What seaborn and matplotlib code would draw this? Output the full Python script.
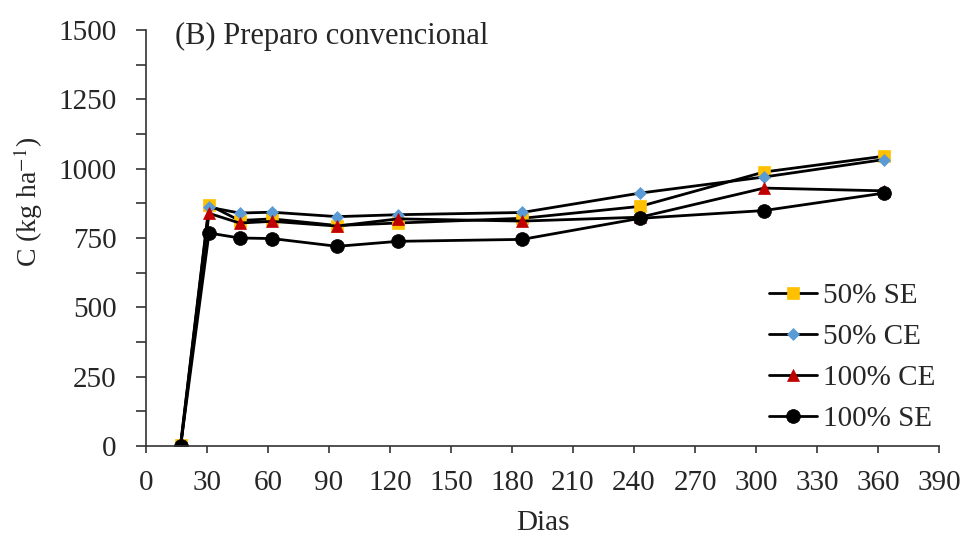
import matplotlib
matplotlib.use("Agg")
import matplotlib.pyplot as plt
import seaborn as sns
import pandas as pd
from matplotlib.ticker import MultipleLocator

days = [17, 31, 46, 62, 94, 124, 185, 243, 304, 363]
se50 = [5, 869, 813, 819, 795, 804, 821, 864, 988, 1045]
ce50 = [0, 861, 840, 843, 827, 834, 842, 912, 970, 1033]
ce100 = [-5, 839, 804, 810, 793, 819, 811, 825, 930, 920]
se100 = [0, 768, 750, 748, 720, 738, 745, 821, 849, 912]

labels = ["50% SE", "50% CE", "100% CE", "100% SE"]
series = [se50, ce50, ce100, se100]
markers = ["s", "D", "^", "o"]
mcolors = ["#FFC000", "#5B9BD5", "#C00000", "#000000"]
msizes = [9, 6.5, 9, 10]

sns.set_style("ticks")
plt.rcParams["font.family"] = ["Liberation Serif", "DejaVu Serif"]
plt.rcParams["mathtext.fontset"] = "stix"

fig = plt.figure(figsize=(9.65, 5.36), dpi=100)
ax = fig.add_axes([146 / 965, 1 - 446 / 536, 793 / 965, 416 / 536])

for lab, vals, mk, mc, ms in zip(labels, series, markers, mcolors, msizes):
    df = pd.DataFrame({"Dias": days, "C": vals})
    sns.lineplot(data=df, x="Dias", y="C", ax=ax, color="black", lw=2.0,
                 marker=mk, markersize=ms, markerfacecolor=mc,
                 markeredgecolor=mc, markeredgewidth=0.5, label=lab)

for line, mc in zip(ax.get_lines(), mcolors):
    line.set_markerfacecolor(mc)
    line.set_markeredgecolor(mc)

ax.set_xlim(0, 390)
ax.set_ylim(0, 1500)
ax.xaxis.set_major_locator(MultipleLocator(30))
ax.yaxis.set_major_locator(MultipleLocator(250))
ax.yaxis.set_minor_locator(MultipleLocator(125))
ax.tick_params(axis="x", which="major", labelsize=21, direction="out",
               length=5, width=1.2, color="#333333", pad=12)
ax.tick_params(axis="y", which="major", labelsize=21, direction="out",
               length=7, width=1.2, color="#333333", pad=14)
ax.tick_params(axis="y", which="minor", direction="out", length=7, width=1.2,
               color="#333333")
for s in ["top", "right"]:
    ax.spines[s].set_visible(False)
for s in ["left", "bottom"]:
    ax.spines[s].set_linewidth(1.2)
    ax.spines[s].set_color("#333333")

ax.set_xlabel("Dias", fontsize=21, labelpad=10)
ax.set_ylabel("C (kg ha$^{-1}$)", fontsize=20, labelpad=10, y=0.587)
ax.text(0.037, 0.985, "(B) Preparo convencional", transform=ax.transAxes,
        fontsize=22, va="center", ha="left")

leg = ax.legend(loc="lower right", bbox_to_anchor=(1.017, -0.009), frameon=False,
                fontsize=21, handlelength=1.65, handletextpad=0.2,
                labelspacing=0.5, borderaxespad=0.2)
for h, mc in zip(leg.legend_handles, mcolors):
    h.set_markerfacecolor(mc)
    h.set_markeredgecolor(mc)

fig.savefig("out.png", dpi=100)
